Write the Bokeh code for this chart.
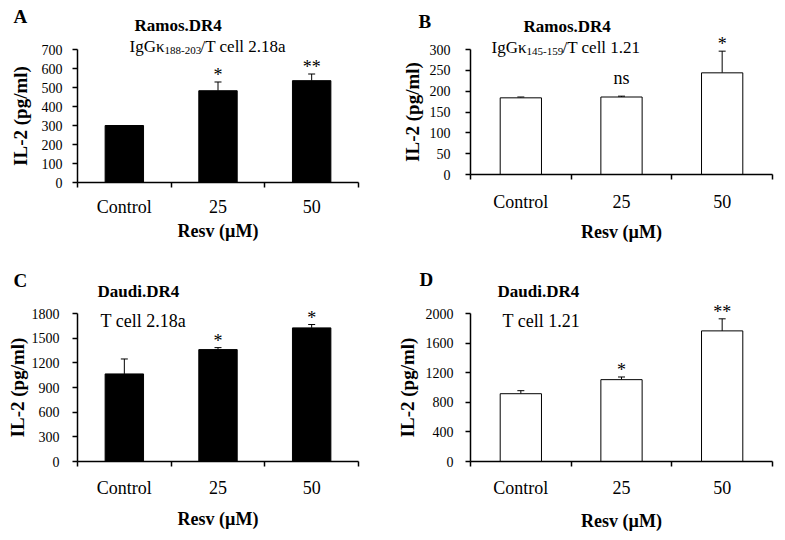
from bokeh.plotting import figure
from bokeh.layouts import row, column
from bokeh.models import (FixedTicker, Whisker, TeeHead, ColumnDataSource, Label,
                          LabelSet, Range1d)
from bokeh.core.properties import value
from bokeh.embed import file_html
from bokeh.resources import INLINE

# ---------------- data ----------------
categories = ["Control", "25", "50"]

a_mean = [300, 483, 536]
a_err = [0, 46, 35]
a_sig = ["", "*", "**"]
a_yticks = [0, 100, 200, 300, 400, 500, 600, 700]

b_mean = [184, 186, 244]
b_err = [2, 2, 52]
b_sig = ["", "ns", "*"]
b_yticks = [0, 50, 100, 150, 200, 250, 300]

c_mean = [1065, 1361, 1625]
c_err = [182, 24, 41]
c_sig = ["", "*", "*"]
c_yticks = [0, 300, 600, 900, 1200, 1500, 1800]

d_mean = [916, 1106, 1765]
d_err = [41, 36, 163]
d_sig = ["", "*", "**"]
d_yticks = [0, 400, 800, 1200, 1600, 2000]

FONT = "Liberation Serif"


def make_panel(letter, title, sub_parts, means, errs, sigs, yticks, fill,
               w, h, box, ytick_standoff, ylab_standoff, xtick_standoff,
               xlab_standoff, letter_pos, title_pos, sub_pos, sub_size):
    L, R, T, B = box
    xs = [i + 0.5 for i in range(len(categories))]
    bounds = list(range(len(categories) + 1))
    xlo, xhi = bounds[0], bounds[-1]
    ylo, yhi = yticks[0], yticks[-1]
    kx = (xhi - xlo) / (R - L)
    ky = (yhi - ylo) / (B - T)
    x_range = Range1d(xlo - L * kx, xhi + (w - R) * kx)
    y_range = Range1d(ylo - (h - B) * ky, yhi + T * ky)

    p = figure(width=w, height=h, output_backend="svg", toolbar_location=None,
               x_range=x_range, y_range=y_range,
               min_border_left=0, min_border_right=0,
               min_border_top=0, min_border_bottom=0,
               background_fill_color="white", border_fill_color="white")
    p.outline_line_color = None
    p.grid.visible = False

    # lowercase labels sit on the baseline, asterisks sit high: lift them more
    sig_offsets = [12 if s.isalpha() else 1 for s in sigs]
    src = ColumnDataSource(dict(
        x=xs, top=means, upper=[m + e for m, e in zip(means, errs)],
        lower=means, sig=sigs, off=sig_offsets))

    p.vbar(x="x", top="top", width=0.41, source=src, fill_color=fill,
           line_color="black", line_width=1)
    p.add_layout(Whisker(source=src, base="x", upper="upper", lower="lower",
                         dimension="height", line_color="black", line_width=1,
                         upper_head=TeeHead(size=7, line_color="black", line_width=1),
                         lower_head=None))
    p.add_layout(LabelSet(source=src, x="x", y="upper", text="sig",
                          text_align="center", text_baseline="alphabetic",
                          y_offset="off", text_font=value(FONT),
                          text_font_size=value("18px"), text_color="black"))

    # x axis
    xa = p.xaxis[0]
    xa.fixed_location = ylo
    xa.bounds = (xlo, xhi)
    xa.ticker = FixedTicker(ticks=xs, minor_ticks=bounds)
    xa.major_label_overrides = {x: c for x, c in zip(xs, categories)}
    xa.major_tick_out = 0
    xa.major_tick_in = 0
    xa.minor_tick_out = 5
    xa.minor_tick_in = 0
    xa.minor_tick_line_color = "black"
    xa.minor_tick_line_width = 1.5
    xa.axis_line_color = "black"
    xa.axis_line_width = 1.5
    xa.major_label_text_font = FONT
    xa.major_label_text_font_size = "18px"
    xa.major_label_text_color = "black"
    xa.major_label_standoff = xtick_standoff
    xa.axis_label = "Resv (\u00b5M)"
    xa.axis_label_text_font = FONT
    xa.axis_label_text_font_style = "bold"
    xa.axis_label_text_font_size = "18px"
    xa.axis_label_text_color = "black"
    xa.axis_label_standoff = xlab_standoff

    # y axis
    ya = p.yaxis[0]
    ya.fixed_location = xlo
    ya.bounds = (ylo, yhi)
    ya.ticker = FixedTicker(ticks=yticks, minor_ticks=[])
    ya.major_tick_out = 5
    ya.major_tick_in = 0
    ya.major_tick_line_color = "black"
    ya.major_tick_line_width = 1.5
    ya.axis_line_color = "black"
    ya.axis_line_width = 1.5
    ya.major_label_text_font = FONT
    ya.major_label_text_font_size = "14px"
    ya.major_label_text_color = "black"
    ya.major_label_standoff = ytick_standoff
    ya.axis_label = "IL-2 (pg/ml)"
    ya.axis_label_text_font = FONT
    ya.axis_label_text_font_style = "bold"
    ya.axis_label_text_font_size = "19px"
    ya.axis_label_text_color = "black"
    ya.axis_label_standoff = ylab_standoff

    # panel letter
    p.add_layout(Label(x=xlo, y=yhi, x_offset=letter_pos[0], y_offset=letter_pos[1],
                       text=letter, text_font=FONT, text_font_style="bold",
                       text_font_size="19px", text_align="left",
                       text_baseline="alphabetic", text_color="black"))
    # title
    p.add_layout(Label(x=xlo, y=yhi, x_offset=title_pos[0], y_offset=title_pos[1],
                       text=title, text_font=FONT, text_font_style="bold",
                       text_font_size="17px", text_align="left",
                       text_baseline="alphabetic", text_color="black"))
    # subtitle pieces: (text, is_subscript, dx)
    for txt, is_sub, dx in sub_parts:
        p.add_layout(Label(x=xlo, y=yhi, x_offset=sub_pos[0] + dx,
                           y_offset=sub_pos[1] - (4 if is_sub else 0),
                           text=txt, text_font=FONT,
                           text_font_size=("11px" if is_sub else sub_size),
                           text_align="left", text_baseline="alphabetic",
                           text_color="black"))
    return p


pa = make_panel("A", "Ramos.DR4",
                [("IgG\u03ba", False, 0), ("188-203", True, 35), ("/T cell 2.18a", False, 71)],
                a_mean, a_err, a_sig, a_yticks, "black",
                390, 259, (77, 358, 49, 182), 10, 8, 9, 1,
                (-64, 33), (57, 24), (52, 3), "17px")
pb = make_panel("B", "Ramos.DR4",
                [("IgG\u03ba", False, 0), ("145-159", True, 35), ("/T cell 1.21", False, 71)],
                b_mean, b_err, b_sig, b_yticks, "white",
                394, 259, (80, 382, 49, 174), 15, 4, 12, 7,
                (-52, 28), (53, 23), (21, 2), "17px")
pc = make_panel("C", "Daudi.DR4",
                [("T cell 2.18a", False, 0)],
                c_mean, c_err, c_sig, c_yticks, "black",
                390, 279, (77, 358, 54, 202), 13, 1, 11, 8,
                (-64, 33), (20, 22), (23, -7), "18px")
pd = make_panel("D", "Daudi.DR4",
                [("T cell 1.21", False, 0)],
                d_mean, d_err, d_sig, d_yticks, "white",
                394, 279, (80, 382, 54, 202), 12, 5, 11, 10,
                (-51, 34), (27, 22), (32, -7), "18px")

layout = column(row(pa, pb), row(pc, pd))
open("out.html", "w").write(file_html(layout, INLINE))
